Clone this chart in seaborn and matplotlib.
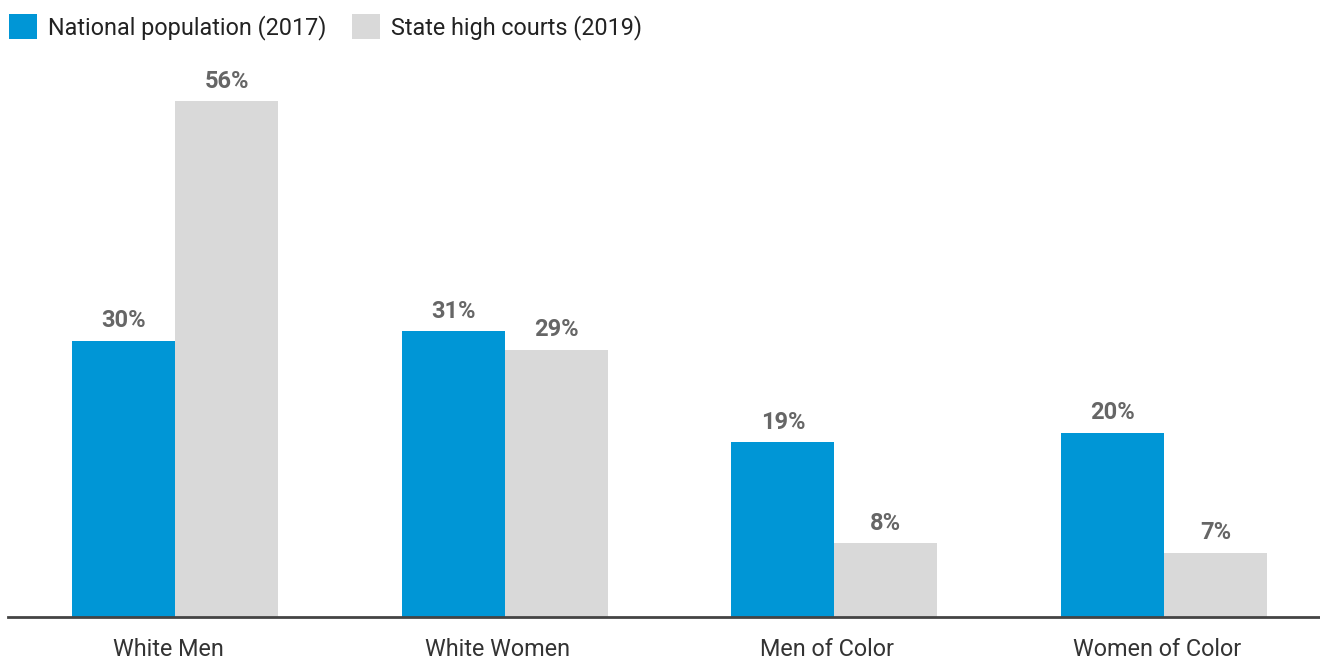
import matplotlib
matplotlib.use("Agg")
import matplotlib.pyplot as plt
from matplotlib.patches import Patch
from matplotlib.transforms import ScaledTranslation
import seaborn as sns
import pandas as pd

categories = ["White Men", "White Women", "Men of Color", "Women of Color"]
series_names = ["National population (2017)", "State high courts (2019)"]
national_population = [30, 31, 19, 20]
state_high_courts = [56, 29, 8, 7]
colors = ["#0096D6", "#D9D9D9"]

df = pd.DataFrame({
    "group": categories * 2,
    "series": [series_names[0]] * len(categories) + [series_names[1]] * len(categories),
    "value": national_population + state_high_courts,
})

sns.set_theme(style="white")
plt.rcParams["font.family"] = ["Roboto", "DejaVu Sans"]

W, H = 1320, 659
fig = plt.figure(figsize=(W / 100, H / 100), dpi=100)
ax = fig.add_axes([8 / W, 42 / H, 1312 / W, (617 - 64.2) / H])

sns.barplot(data=df, x="group", y="value", hue="series", order=categories,
            hue_order=series_names, palette=colors, width=0.625, saturation=1,
            dodge=True, legend=False, ax=ax, linewidth=0)

ax.set_ylim(0, 60)
ax.set_xlim(-0.507, 3.473)

for container in ax.containers:
    ax.bar_label(container, labels=[f"{v:.0f}%" for v in container.datavalues],
                 padding=6, fontsize=17, fontweight="bold", color="#666666")

ax.set_xlabel("")
ax.set_ylabel("")
ax.set_yticks([])
ax.tick_params(axis="x", length=0, pad=15, labelsize=16.8, labelcolor="#333333")
shift = ScaledTranslation(-7 / 100, 0, fig.dpi_scale_trans)
for lbl in ax.get_xticklabels():
    lbl.set_transform(lbl.get_transform() + shift)
for side in ["top", "right", "left"]:
    ax.spines[side].set_visible(False)
ax.spines["bottom"].set_color("#444444")
ax.spines["bottom"].set_linewidth(2)

handles = [Patch(facecolor=c, edgecolor="none") for c in colors]
fig.legend(handles, series_names, loc="upper left", bbox_to_anchor=(9 / W, 1 - 14 / H),
           ncol=2, frameon=False, fontsize=16.8, handlelength=1.2, handleheight=1.25,
           handletextpad=0.47, columnspacing=1.1, borderaxespad=0, borderpad=0,
           labelcolor="#222222")

fig.savefig("out.png", dpi=100)
